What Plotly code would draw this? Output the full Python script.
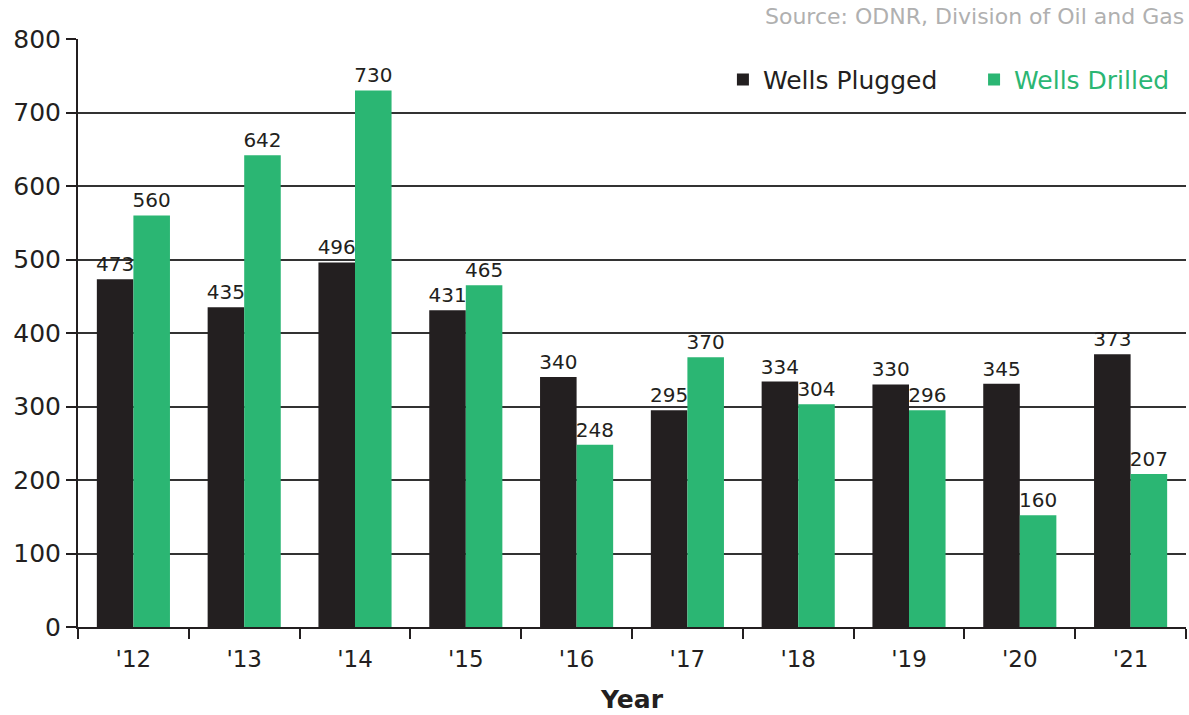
import plotly.graph_objects as go

years = ["'12", "'13", "'14", "'15", "'16", "'17", "'18", "'19", "'20", "'21"]

# bar heights as drawn
plugged = [473, 435, 496, 431, 340, 295, 334, 330, 331, 371]
drilled = [560, 642, 730, 465, 248, 367, 303, 295, 152, 208]

# printed value labels
plugged_labels = ["473", "435", "496", "431", "340", "295", "334", "330", "345", "373"]
drilled_labels = ["560", "642", "730", "465", "248", "370", "304", "296", "160", "207"]

BLACK = "#231f20"
GREEN = "#2bb673"
FONT = "DejaVu Sans"

fig = go.Figure()
fig.add_trace(go.Bar(
    x=years, y=plugged, name="Wells Plugged    ",
    marker=dict(color=BLACK, line=dict(width=0)),
    text=plugged_labels, textposition="outside",
    textfont=dict(size=20, color=BLACK, family=FONT),
    cliponaxis=False, constraintext="none",
))
fig.add_trace(go.Bar(
    x=years, y=drilled,
    name="<span style='color:%s'>Wells Drilled</span>" % GREEN,
    marker=dict(color=GREEN, line=dict(width=0)),
    text=drilled_labels, textposition="outside",
    textfont=dict(size=20, color=BLACK, family=FONT),
    cliponaxis=False, constraintext="none",
))

fig.update_layout(
    width=1189, height=715,
    margin=dict(l=78, r=3, t=39, b=88),
    barmode="group", bargap=0.34, bargroupgap=0,
    plot_bgcolor="white", paper_bgcolor="white",
    font=dict(family=FONT, color=BLACK),
    showlegend=True,
    legend=dict(
        orientation="h", x=0.99, xanchor="right", y=0.97, yanchor="top",
        font=dict(size=25, color=BLACK, family=FONT),
        bgcolor="rgba(255,255,255,0)", itemwidth=30, traceorder="normal",
    ),
    xaxis=dict(
        showline=True, linecolor=BLACK, linewidth=2,
        ticks="outside", tickson="boundaries", ticklen=10, tickwidth=2, tickcolor=BLACK,
        tickfont=dict(size=23, color=BLACK), ticklabelstandoff=10,
        title=dict(text="<b>Year</b>", font=dict(size=25, color=BLACK), standoff=20),
        showgrid=False, automargin=False,
    ),
    yaxis=dict(
        range=[0, 800], dtick=100,
        showline=True, linecolor=BLACK, linewidth=2,
        ticks="outside", ticklen=10, tickwidth=2, tickcolor=BLACK,
        tickfont=dict(size=25, color=BLACK),
        showgrid=True, gridcolor="#333333", gridwidth=2,
        zeroline=False, automargin=False,
    ),
    annotations=[dict(
        text="Source: ODNR, Division of Oil and Gas",
        xref="paper", yref="paper", x=1, y=1, xanchor="right", yanchor="bottom",
        yshift=8, showarrow=False,
        font=dict(size=22, color="#b0b0b0", family=FONT),
    )],
)

# drop the default page margin so the figure fills the window
fig.write_html("out.html", config={"displayModeBar": False},
               post_script="document.body.style.margin='0';")
